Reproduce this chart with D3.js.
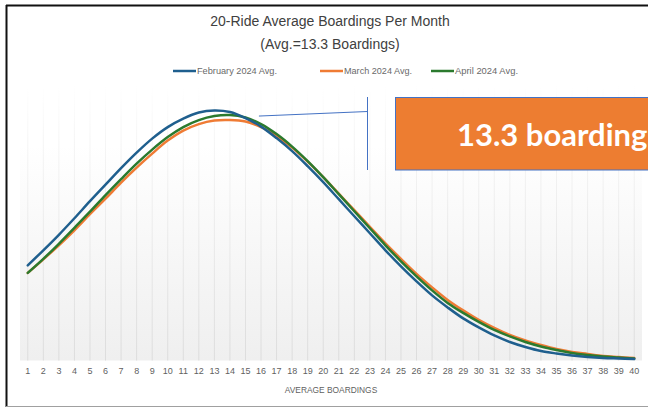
<!DOCTYPE html>
<html>
<head>
<meta charset="utf-8">
<script src="https://cdn.jsdelivr.net/npm/d3@7"></script>
<style>
  html, body { margin: 0; padding: 0; background: #ffffff; }
  svg { display: block; }
</style>
</head>
<body>
<svg id="chart" width="648" height="408"></svg>
<script>
// Average boardings per rider (1..40) for the 20-ride pass
const categories = d3.range(1, 41).map(String);

// Share of riders (%) at each average-boardings value
const february = [1.90, 2.20, 2.51, 2.84, 3.18, 3.51, 3.84, 4.15, 4.43, 4.66,
                  4.83, 4.95, 4.99, 4.96, 4.84, 4.67, 4.44, 4.18, 3.88, 3.56,
                  3.22, 2.88, 2.54, 2.20, 1.88, 1.58, 1.30, 1.06, 0.84, 0.66,
                  0.50, 0.37, 0.27, 0.19, 0.14, 0.10, 0.07, 0.05, 0.04, 0.03];
const march    = [1.75, 2.02, 2.30, 2.60, 2.92, 3.23, 3.55, 3.85, 4.13, 4.39,
                  4.59, 4.72, 4.79, 4.80, 4.77, 4.66, 4.48, 4.25, 3.97, 3.66,
                  3.33, 3.00, 2.67, 2.34, 2.03, 1.73, 1.46, 1.21, 1.00, 0.81,
                  0.65, 0.51, 0.40, 0.31, 0.23, 0.17, 0.13, 0.09, 0.07, 0.05];
const april    = [1.75, 2.03, 2.33, 2.65, 2.97, 3.30, 3.62, 3.93, 4.21, 4.46,
                  4.66, 4.80, 4.88, 4.90, 4.85, 4.72, 4.52, 4.27, 3.98, 3.66,
                  3.32, 2.98, 2.64, 2.30, 1.98, 1.68, 1.40, 1.15, 0.95, 0.77,
                  0.61, 0.48, 0.37, 0.28, 0.21, 0.15, 0.11, 0.08, 0.06, 0.04];

const seriesNames = ["February 2024 Avg.", "March 2024 Avg.", "April 2024 Avg."];
const seriesColors = ["#1f5f8e", "#ef7b34", "#2b7a2e"];
const seriesValues = [february, march, april];

const titleLines = ["20-Ride Average Boardings Per Month", "(Avg.=13.3 Boardings)"];
const axisTitle = "AVERAGE BOARDINGS";
const calloutText = "13.3 boardings";
const calloutCategory = "14"; // leader line starts near the peak

const svg = d3.select("#chart");
const font = "'Liberation Sans', Arial, sans-serif";

// Outer frame of the slide object
svg.append("line").attr("x1", 6).attr("y1", 5.5).attr("x2", 648).attr("y2", 5.5)
  .attr("stroke", "#111").attr("stroke-width", 2);
svg.append("line").attr("x1", 6.5).attr("y1", 5).attr("x2", 6.5).attr("y2", 407)
  .attr("stroke", "#111").attr("stroke-width", 2);
svg.append("line").attr("x1", 6).attr("y1", 406.5).attr("x2", 648).attr("y2", 406.5)
  .attr("stroke", "#a0a0a0").attr("stroke-width", 1);

// Plot area
const plot = { left: 20, right: 642, top: 85, bottom: 360.5 };

const x = d3.scaleBand().domain(categories).range([plot.left, plot.right]).padding(0);
const y = d3.scaleLinear().domain([0, 5.5]).range([plot.bottom, plot.top]);
const cx = d => x(d) + x.bandwidth() / 2;

const defs = svg.append("defs");
const grad = defs.append("linearGradient").attr("id", "plotFill")
  .attr("x1", 0).attr("y1", 0).attr("x2", 0).attr("y2", 1);
grad.append("stop").attr("offset", "0%").attr("stop-color", "#ffffff");
grad.append("stop").attr("offset", "22%").attr("stop-color", "#ffffff");
grad.append("stop").attr("offset", "100%").attr("stop-color", "#efefef");

const gridGrad = defs.append("linearGradient").attr("id", "gridFade")
  .attr("gradientUnits", "userSpaceOnUse")
  .attr("x1", 0).attr("y1", plot.top).attr("x2", 0).attr("y2", plot.bottom);
gridGrad.append("stop").attr("offset", "0%").attr("stop-color", "#ffffff");
gridGrad.append("stop").attr("offset", "18%").attr("stop-color", "#f6f6f6");
gridGrad.append("stop").attr("offset", "100%").attr("stop-color", "#dcdcdc");

svg.append("rect")
  .attr("x", plot.left).attr("y", plot.top)
  .attr("width", plot.right - plot.left).attr("height", plot.bottom - plot.top)
  .attr("fill", "url(#plotFill)");

// Vertical gridlines at each category
svg.append("g").selectAll("rect").data(categories).join("rect")
  .attr("x", d => cx(d) - 0.5).attr("width", 1)
  .attr("y", plot.top).attr("height", plot.bottom - plot.top)
  .attr("fill", "url(#gridFade)");

// X axis labels
const xAxis = d3.axisBottom(x).tickSize(0).tickPadding(7);
const gx = svg.append("g").attr("transform", `translate(0,${plot.bottom})`).call(xAxis);
gx.select(".domain").remove();
gx.selectAll("text").attr("font-family", font).attr("font-size", 9).attr("fill", "#5f5f5f");

svg.append("text").attr("x", (plot.left + plot.right) / 2).attr("y", 393)
  .attr("text-anchor", "middle").attr("font-family", font).attr("font-size", 8.4)
  .attr("fill", "#5f5f5f").text(axisTitle);

// Series lines
const line = d3.line()
  .x((d, i) => cx(categories[i]))
  .y(d => y(d))
  .curve(d3.curveCatmullRom.alpha(0.5));

// Draw orange, then green, then blue on top
[1, 2, 0].forEach(k => {
  svg.append("path").datum(seriesValues[k])
    .attr("d", line)
    .attr("fill", "none")
    .attr("stroke", seriesColors[k])
    .attr("stroke-width", 2.5)
    .attr("stroke-linejoin", "round")
    .attr("stroke-linecap", "round");
});

// Title
svg.append("g").selectAll("text").data(titleLines).join("text")
  .attr("x", 330).attr("y", (d, i) => 26 + i * 23)
  .attr("text-anchor", "middle").attr("font-family", font).attr("font-size", 14)
  .attr("fill", "#404040").text(d => d);

// Legend
const legendX = [173, 320, 431];
const legend = svg.append("g").selectAll("g").data(seriesNames).join("g")
  .attr("transform", (d, i) => `translate(${legendX[i]},71)`);
legend.append("line").attr("x1", 0).attr("x2", 23).attr("y1", 0).attr("y2", 0)
  .attr("stroke", (d, i) => seriesColors[i]).attr("stroke-width", 2.5);
legend.append("text").attr("x", 24).attr("y", 3)
  .attr("font-family", font).attr("font-size", 8.6).attr("fill", "#6a6a6a")
  .attr("textLength", (d, i) => [80, 68, 63][i]).attr("lengthAdjust", "spacingAndGlyphs")
  .text(d => d);

// Callout: leader line from the peak to the label box
const peakVal = february[categories.indexOf(calloutCategory)];
const leadStart = [cx(calloutCategory) + 29, y(peakVal) + 4];
svg.append("polyline")
  .attr("points", `${leadStart[0]},${leadStart[1]} 367.5,111.5`)
  .attr("fill", "none").attr("stroke", "#4472c4").attr("stroke-width", 1);
svg.append("line").attr("x1", 367.5).attr("x2", 367.5).attr("y1", 97).attr("y2", 170)
  .attr("stroke", "#4472c4").attr("stroke-width", 1);

svg.append("rect").attr("x", 395.5).attr("y", 97.5).attr("width", 300).attr("height", 72.5)
  .attr("fill", "#ed7d31").attr("stroke", "#4472c4").attr("stroke-width", 1);
svg.append("text").attr("x", 457).attr("y", 146)
  .attr("font-family", "Lato, 'Open Sans', sans-serif").attr("font-weight", "bold")
  .attr("font-size", 31).attr("fill", "#ffffff").text(calloutText);
</script>
</body>
</html>
